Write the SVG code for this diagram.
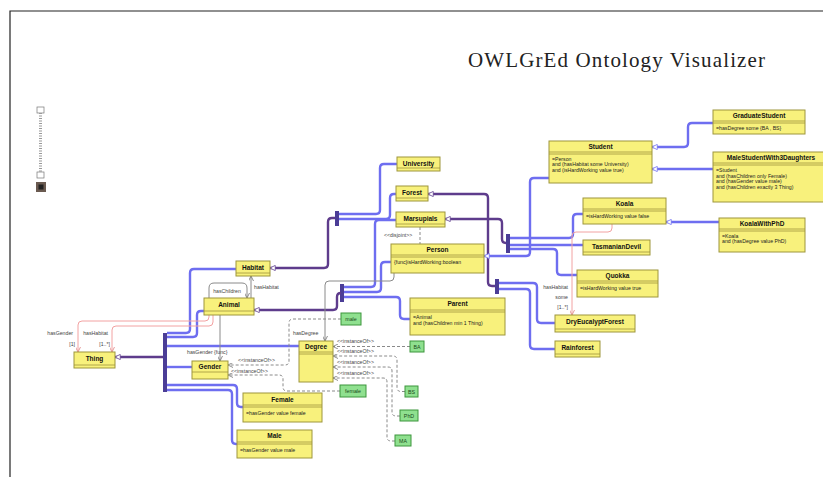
<svg xmlns="http://www.w3.org/2000/svg" width="823" height="477" viewBox="0 0 823 477">
<style>
text{font-family:"Liberation Sans",Arial,sans-serif}
.box{fill:#F8F17C;stroke:#9E963C;stroke-width:1}
.sep{stroke:#9E963C;stroke-width:0.8}
.hdr{font-size:6.5px;font-weight:bold;text-anchor:middle;fill:#111}
.body{font-size:5.2px;fill:#222}
.ibox{fill:#8FE08F;stroke:#3C963C;stroke-width:1}
.itxt{font-size:5.3px;text-anchor:middle;fill:#1a4a1a}
.sub{fill:none;stroke:#6E6EF0;stroke-width:2.4}
.sup{fill:none;stroke:#5E3C8C;stroke-width:2.4}
.bar{fill:#4B3D96}
.prop{fill:none;stroke:#8a8a8a;stroke-width:1}
.pink{fill:none;stroke:#F2A2A2;stroke-width:1}
.dash{fill:none;stroke:#8a8a8a;stroke-width:1;stroke-dasharray:3 2}
.lbl{font-size:5.2px;fill:#444}
</style>
<defs>
<marker id="genP" viewBox="0 0 8 8" refX="7.5" refY="4" markerWidth="6" markerHeight="6" markerUnits="userSpaceOnUse" orient="auto"><path d="M0.5,0.5 L7.5,4 L0.5,7.5 z" fill="#fff" stroke="#5E3C8C" stroke-width="1"/></marker>
<marker id="genB" viewBox="0 0 8 8" refX="7.5" refY="4" markerWidth="6" markerHeight="6" markerUnits="userSpaceOnUse" orient="auto"><path d="M0.5,0.5 L7.5,4 L0.5,7.5 z" fill="#fff" stroke="#6E6EF0" stroke-width="1"/></marker>
<marker id="arr" viewBox="0 0 6 6" refX="6" refY="3" markerWidth="5" markerHeight="5" markerUnits="userSpaceOnUse" orient="auto"><path d="M0,0 L6,3 L0,6" fill="none" stroke="#777" stroke-width="1"/></marker>
<marker id="arrPk" viewBox="0 0 6 6" refX="6" refY="3" markerWidth="5" markerHeight="5" markerUnits="userSpaceOnUse" orient="auto"><path d="M0,0 L6,3 L0,6" fill="none" stroke="#E08888" stroke-width="1"/></marker>
</defs>
<rect width="823" height="477" fill="#fff"/>
<path d="M10,477 V11 H823" fill="none" stroke="#222" stroke-width="1.2"/>
<text x="468" y="67" font-family="'Liberation Serif','DejaVu Serif',serif" font-size="21" textLength="297" fill="#222" style="font-family:'Liberation Serif','DejaVu Serif',serif">OWLGrEd Ontology Visualizer</text>

<g id="zoomSlider">
<rect x="37" y="107" width="7" height="6" fill="#fff" stroke="#777" stroke-width="0.7"/>
<line x1="40.5" y1="113" x2="40.5" y2="172" stroke="#999" stroke-width="3" stroke-dasharray="1 1.5"/>
<rect x="37" y="172" width="7" height="6" fill="#fff" stroke="#777" stroke-width="0.7"/>
<rect x="36" y="182" width="10" height="10" fill="#6a5a50"/>
<rect x="38.5" y="184.5" width="5" height="5" fill="#222"/>
</g>

<g id="connectors">
<!-- generalization bars -->
<rect class="bar" x="163" y="333" width="4" height="59"/>
<rect class="bar" x="335" y="211" width="4" height="15"/>
<rect class="bar" x="340" y="284" width="4" height="18"/>
<rect class="bar" x="495" y="279" width="4" height="15"/>
<rect class="bar" x="506" y="234" width="4" height="19"/>
<!-- superclass links -->
<path class="sup" d="M163,357 H115" marker-end="url(#genP)"/>
<path class="sup" d="M335,218 H332 Q328,218 328,222 V264 Q328,268 324,268 H270" marker-end="url(#genP)"/>
<path class="sup" d="M341,293 Q337,293 337,297 V306 Q337,310 333,310 H254" marker-end="url(#genP)"/>
<path class="sup" d="M495,286 H492 Q488,286 488,282 V198 Q488,194 484,194 H428" marker-end="url(#genP)"/>
<path class="sup" d="M506,243 Q502,243 502,239 V223 Q502,219 498,219 H445" marker-end="url(#genP)"/>
<!-- subclass links from Thing bar -->
<path class="sub" d="M167,333 H186 Q190,333 190,329 V273 Q190,269 194,269 H236"/>
<path class="sub" d="M167,337 H193 Q197,337 197,333 V315 Q197,311 201,311 H204"/>
<path class="sub" d="M167,346 H299"/>
<path class="sub" d="M167,367 H192"/>
<path class="sub" d="M167,385 H233 Q237,385 237,389 V403 Q237,407 241,407 H243"/>
<path class="sub" d="M167,390 H228 Q232,390 232,394 V440 Q232,444 236,444 H237"/>
<!-- Habitat bar -->
<path class="sub" d="M339,214 H376 Q380,214 380,210 V168 Q380,164 384,164 H397"/>
<path class="sub" d="M339,219 H386 Q390,219 390,215 V198 Q390,194 394,194 H396"/>
<!-- Animal bar -->
<path class="sub" d="M344,287 H371 Q375,287 375,283 V224 Q375,220 379,220 H396"/>
<path class="sub" d="M344,292 H377 Q381,292 381,288 V266 Q381,262 385,262 H391"/>
<path class="sub" d="M344,297 H396 Q400,297 400,301 V315 Q400,319 404,319 H410"/>
<!-- Forest bar -->
<path class="sub" d="M499,283 H533 Q537,283 537,287 V319 Q537,323 541,323 H555"/>
<path class="sub" d="M499,289 H526 Q530,289 530,293 V345 Q530,349 534,349 H555"/>
<!-- Marsupials bar -->
<path class="sub" d="M510,238 H569 Q573,238 573,234 V218 Q573,214 577,214 H583"/>
<path class="sub" d="M510,245 H583"/>
<path class="sub" d="M510,249 H553 Q557,249 557,253 V271 Q557,275 561,275 H577"/>
<!-- direct subclass links -->
<path class="sub" d="M549,178 H534 Q530,178 530,182 V252 Q530,256 526,256 H484" marker-end="url(#genB)"/>
<path class="sub" d="M713,123 H692 Q688,123 688,127 V143 Q688,147 684,147 H652" marker-end="url(#genB)"/>
<path class="sub" d="M713,169 H652" marker-end="url(#genB)"/>
<path class="sub" d="M719,222 H666" marker-end="url(#genB)"/>
<!-- object properties -->
<path class="prop" d="M209,298 V288 Q209,283 214,283 H242 Q247,283 247,288 V298" marker-end="url(#arr)"/>
<text class="lbl" x="227" y="292.5" text-anchor="middle">hasChildren</text>
<path class="prop" d="M251,298 V276" marker-end="url(#arr)"/>
<text class="lbl" x="254" y="289">hasHabitat</text>
<path class="prop" d="M220,315 V361" marker-end="url(#arr)"/>
<text class="lbl" x="187" y="354">hasGender {func}</text>
<path class="prop" d="M394,273 V277 Q394,281 390,281 H329 Q325,281 325,285 V341" marker-end="url(#arr)"/>
<text class="lbl" x="293" y="335">hasDegree</text>
<path class="pink" d="M209,315 V317 Q209,321 205,321 H82 Q78,321 78,325 V352" marker-end="url(#arrPk)"/>
<path class="pink" d="M213,315 V322 Q213,326 209,326 H116 Q112,326 112,330 V352" marker-end="url(#arrPk)"/>
<text class="lbl" x="73" y="335" text-anchor="end">hasGender</text>
<text class="lbl" x="75" y="346" text-anchor="end">[1]</text>
<text class="lbl" x="108" y="335" text-anchor="end">hasHabitat</text>
<text class="lbl" x="110" y="346" text-anchor="end">[1..*]</text>
<path class="pink" d="M612,224 V228 Q612,232 608,232 H576 Q572,232 572,236 V315" marker-end="url(#arrPk)"/>
<text class="lbl" x="568" y="289" text-anchor="end">hasHabitat</text>
<text class="lbl" x="568" y="299" text-anchor="end">some</text>
<text class="lbl" x="568" y="309" text-anchor="end">[1..*]</text>
<!-- disjoint -->
<path class="dash" d="M420,227 V244"/>
<text class="lbl" x="384" y="237">&lt;&lt;disjoint&gt;&gt;</text>
<!-- instanceOf -->
<path class="dash" d="M410,346.5 H333" marker-end="url(#arr)"/>
<text class="lbl" x="337" y="343">&lt;&lt;instanceOf&gt;&gt;</text>
<path class="dash" d="M405,391.5 H401 Q397,391.5 397,387.5 V360 Q397,356 393,356 H333" marker-end="url(#arr)"/>
<text class="lbl" x="337" y="353">&lt;&lt;instanceOf&gt;&gt;</text>
<path class="dash" d="M400,416 H396 Q392,416 392,412 V371 Q392,367 388,367 H333" marker-end="url(#arr)"/>
<text class="lbl" x="337" y="364">&lt;&lt;instanceOf&gt;&gt;</text>
<path class="dash" d="M395,441 H391 Q387,441 387,437 V382 Q387,378 383,378 H333" marker-end="url(#arr)"/>
<text class="lbl" x="337" y="375">&lt;&lt;instanceOf&gt;&gt;</text>
<path class="dash" d="M341,319 H293 Q289,319 289,323 V361 Q289,365 285,365 H228" marker-end="url(#arr)"/>
<text class="lbl" x="238" y="362">&lt;&lt;instanceOf&gt;&gt;</text>
<path class="dash" d="M340,391 H287 Q283,391 283,387 V379 Q283,375 279,375 H228" marker-end="url(#arr)"/>
<text class="lbl" x="231" y="372.5">&lt;&lt;instanceOf&gt;&gt;</text>
</g>

<g id="University"><rect class="box" x="397" y="157" width="43" height="14"/><line class="sep" x1="397" y1="168" x2="440" y2="168"/><text class="hdr" x="418.5" y="165.5">University</text></g>
<g id="Forest"><rect class="box" x="396" y="186" width="32" height="15"/><line class="sep" x1="396" y1="198" x2="428" y2="198"/><text class="hdr" x="412" y="194.5">Forest</text></g>
<g id="Marsupials"><rect class="box" x="396" y="212" width="49" height="15"/><line class="sep" x1="396" y1="224" x2="445" y2="224"/><text class="hdr" x="420.5" y="220.5">Marsupials</text></g>
<g id="Person"><rect class="box" x="391" y="244" width="93" height="29"/><line class="sep" x1="391" y1="255" x2="484" y2="255"/><line class="sep" x1="391" y1="257" x2="484" y2="257"/><text class="hdr" x="437.5" y="252">Person</text><text class="body" x="394" y="264">{func}isHardWorking:boolean</text></g>
<g id="Student"><rect class="box" x="549" y="141" width="103" height="42"/><line class="sep" x1="549" y1="152" x2="652" y2="152"/><line class="sep" x1="549" y1="154" x2="652" y2="154"/><text class="hdr" x="600.5" y="149">Student</text><text class="body" x="552" y="160.5">=Person</text><text class="body" x="552" y="166">and (hasHabitat some University)</text><text class="body" x="552" y="171.5">and (isHardWorking value true)</text></g>
<g id="GraduateStudent"><rect class="box" x="713" y="110" width="92" height="24"/><line class="sep" x1="713" y1="121" x2="805" y2="121"/><line class="sep" x1="713" y1="123" x2="805" y2="123"/><text class="hdr" x="759" y="118">GraduateStudent</text><text class="body" x="716" y="130">=hasDegree some {BA , BS}</text></g>
<g id="MaleStudentWith3Daughters"><rect class="box" x="713" y="152" width="116" height="50"/><line class="sep" x1="713" y1="163" x2="829" y2="163"/><line class="sep" x1="713" y1="165" x2="829" y2="165"/><text class="hdr" x="771" y="160">MaleStudentWith3Daughters</text><text class="body" x="716" y="172">=Student</text><text class="body" x="716" y="177.5">and (hasChildren only Female)</text><text class="body" x="716" y="183">and (hasGender value male)</text><text class="body" x="716" y="188.5">and (hasChildren exactly 3 Thing)</text></g>
<g id="Koala"><rect class="box" x="583" y="198" width="83" height="26"/><line class="sep" x1="583" y1="209" x2="666" y2="209"/><line class="sep" x1="583" y1="211" x2="666" y2="211"/><text class="hdr" x="624.5" y="206">Koala</text><text class="body" x="586" y="217.5">=isHardWorking value false</text></g>
<g id="KoalaWithPhD"><rect class="box" x="719" y="218" width="86" height="34"/><line class="sep" x1="719" y1="229" x2="805" y2="229"/><line class="sep" x1="719" y1="231" x2="805" y2="231"/><text class="hdr" x="762" y="226">KoalaWithPhD</text><text class="body" x="722" y="237.5">=Koala</text><text class="body" x="722" y="243">and (hasDegree value PhD)</text></g>
<g id="TasmanianDevil"><rect class="box" x="583" y="240" width="67" height="15"/><line class="sep" x1="583" y1="252" x2="650" y2="252"/><text class="hdr" x="616.5" y="248.5">TasmanianDevil</text></g>
<g id="Quokka"><rect class="box" x="577" y="270" width="81" height="27"/><line class="sep" x1="577" y1="281" x2="658" y2="281"/><line class="sep" x1="577" y1="283" x2="658" y2="283"/><text class="hdr" x="617.5" y="278">Quokka</text><text class="body" x="580" y="290">=isHardWorking value true</text></g>
<g id="DryEucalyptForest"><rect class="box" x="555" y="315" width="80" height="17"/><line class="sep" x1="555" y1="329" x2="635" y2="329"/><text class="hdr" x="595" y="324">DryEucalyptForest</text></g>
<g id="Rainforest"><rect class="box" x="555" y="341" width="45" height="16"/><line class="sep" x1="555" y1="354" x2="600" y2="354"/><text class="hdr" x="577.5" y="349.5">Rainforest</text></g>
<g id="Parent"><rect class="box" x="410" y="298" width="95" height="37"/><line class="sep" x1="410" y1="310" x2="505" y2="310"/><line class="sep" x1="410" y1="312" x2="505" y2="312"/><text class="hdr" x="457.5" y="306">Parent</text><text class="body" x="413" y="319">=Animal</text><text class="body" x="413" y="324.5">and (hasChildren min 1 Thing)</text></g>
<g id="Habitat"><rect class="box" x="236" y="261" width="34" height="15"/><line class="sep" x1="236" y1="273" x2="270" y2="273"/><text class="hdr" x="253" y="269.5">Habitat</text></g>
<g id="Animal"><rect class="box" x="204" y="298" width="50" height="17"/><line class="sep" x1="204" y1="311" x2="254" y2="311"/><text class="hdr" x="229" y="306.5">Animal</text></g>
<g id="Thing"><rect class="box" x="74" y="352" width="41" height="16"/><line class="sep" x1="74" y1="365" x2="115" y2="365"/><text class="hdr" x="94.5" y="360.5">Thing</text></g>
<g id="Gender"><rect class="box" x="192" y="361" width="36" height="18"/><line class="sep" x1="192" y1="372" x2="228" y2="372"/><text class="hdr" x="210" y="369">Gender</text></g>
<g id="Degree"><rect class="box" x="299" y="341" width="34" height="41"/><line class="sep" x1="299" y1="352" x2="333" y2="352"/><line class="sep" x1="299" y1="354" x2="333" y2="354"/><text class="hdr" x="316" y="349">Degree</text></g>
<g id="Female"><rect class="box" x="243" y="393" width="79" height="29"/><line class="sep" x1="243" y1="405" x2="322" y2="405"/><line class="sep" x1="243" y1="407" x2="322" y2="407"/><text class="hdr" x="282.5" y="401.5">Female</text><text class="body" x="246" y="415">=hasGender value female</text></g>
<g id="Male"><rect class="box" x="237" y="430" width="75" height="28"/><line class="sep" x1="237" y1="442" x2="312" y2="442"/><line class="sep" x1="237" y1="444" x2="312" y2="444"/><text class="hdr" x="274.5" y="438">Male</text><text class="body" x="240" y="452">=hasGender value male</text></g>

<g id="male"><rect class="ibox" x="341" y="313" width="20" height="12"/><text class="itxt" x="351" y="321">male</text></g>
<g id="female"><rect class="ibox" x="340" y="385" width="26" height="12"/><text class="itxt" x="353" y="393">female</text></g>
<g id="BA"><rect class="ibox" x="410" y="341" width="14" height="11"/><text class="itxt" x="417" y="348.5">BA</text></g>
<g id="BS"><rect class="ibox" x="405" y="386" width="13" height="11"/><text class="itxt" x="411.5" y="393.5">BS</text></g>
<g id="PhD"><rect class="ibox" x="400" y="410" width="18" height="11"/><text class="itxt" x="409" y="417.5">PhD</text></g>
<g id="MA"><rect class="ibox" x="395" y="435" width="16" height="11"/><text class="itxt" x="403" y="442.5">MA</text></g>
</svg>
